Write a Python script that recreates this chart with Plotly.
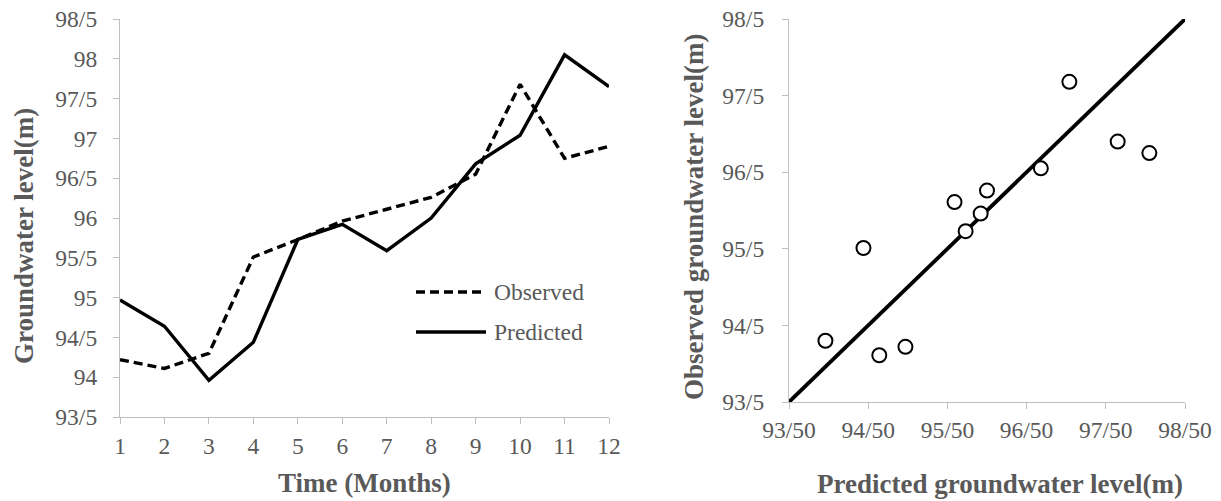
import plotly.graph_objects as go

# Monthly groundwater levels (m)
months = [1, 2, 3, 4, 5, 6, 7, 8, 9, 10, 11, 12]
observed = [94.22, 94.11, 94.30, 95.51, 95.73, 95.96, 96.11, 96.26, 96.55, 97.68, 96.75, 96.90]
predicted = [94.97, 94.64, 93.96, 94.44, 95.73, 95.92, 95.59, 96.00, 96.68, 97.04, 98.05, 97.65]

# Tick values and labels (slash used as decimal separator)
left_y_vals = [93.5, 94.0, 94.5, 95.0, 95.5, 96.0, 96.5, 97.0, 97.5, 98.0, 98.5]
left_y_text = ["93/5", "94", "94/5", "95", "95/5", "96", "96/5", "97", "97/5", "98", "98/5"]
right_y_vals = [93.5, 94.5, 95.5, 96.5, 97.5, 98.5]
right_y_text = ["93/5", "94/5", "95/5", "96/5", "97/5", "98/5"]
right_x_vals = [93.5, 94.5, 95.5, 96.5, 97.5, 98.5]
right_x_text = ["93/50", "94/50", "95/50", "96/50", "97/50", "98/50"]
level_range = [93.5, 98.5]

W, H = 1221, 501
FONT = "Liberation Serif"
GREY = "#595959"
AXIS = "#bfbfbf"
TICK_SIZE = 23.5
TITLE_SIZE = 27


def px(x):
    return x / W


def py(y):
    return 1 - y / H


fig = go.Figure()

# Left: time series
fig.add_trace(go.Scatter(
    x=months, y=observed, mode="lines", name="Observed",
    line=dict(color="black", width=3.4, dash="9px,5px"),
    xaxis="x", yaxis="y", showlegend=False))
fig.add_trace(go.Scatter(
    x=months, y=predicted, mode="lines", name="Predicted",
    line=dict(color="black", width=3.4),
    xaxis="x", yaxis="y", showlegend=False))

# Right: predicted vs observed with 1:1 line
fig.add_trace(go.Scatter(
    x=level_range, y=level_range, mode="lines",
    line=dict(color="black", width=3.8),
    xaxis="x2", yaxis="y2", showlegend=False, cliponaxis=False))
fig.add_trace(go.Scatter(
    x=predicted, y=observed, mode="markers",
    marker=dict(symbol="circle", size=14, color="white",
                line=dict(color="black", width=2)),
    xaxis="x2", yaxis="y2", showlegend=False))

axis_common = dict(
    showgrid=False, zeroline=False, showline=True, linecolor=AXIS, linewidth=1.3,
    ticks="outside", ticklen=6, tickcolor=AXIS, tickwidth=1.3, automargin=False,
    tickfont=dict(family=FONT, size=TICK_SIZE, color=GREY),
)

fig.update_layout(
    width=W, height=H,
    margin=dict(l=0, r=0, t=0, b=0, autoexpand=False),
    paper_bgcolor="white", plot_bgcolor="white",
    xaxis=dict(domain=[px(120), px(609)], range=[1, 12], tickvals=months,
               anchor="y", ticklabelstandoff=2, **axis_common),
    yaxis=dict(domain=[py(417), py(19)], range=level_range,
               tickvals=left_y_vals, ticktext=left_y_text,
               anchor="x", ticklabelstandoff=11, **axis_common),
    xaxis2=dict(domain=[px(789), px(1185)], range=level_range,
                tickvals=right_x_vals, ticktext=right_x_text,
                anchor="y2", ticklabelstandoff=1, **axis_common),
    yaxis2=dict(domain=[py(402), py(19)], range=level_range,
                tickvals=right_y_vals, ticktext=right_y_text,
                anchor="x2", ticklabelstandoff=13, **axis_common),
)

title_font = dict(family=FONT, size=TITLE_SIZE, color=GREY, weight="bold")
annotations = [
    dict(text="Time (Months)", x=px(365), y=py(483), xref="paper", yref="paper",
         showarrow=False, font=title_font, xanchor="center", yanchor="middle"),
    dict(text="Groundwater level(m)", x=px(24), y=py(236), xref="paper", yref="paper",
         showarrow=False, font=title_font, textangle=-90, xanchor="center", yanchor="middle"),
    dict(text="Predicted groundwater level(m)", x=px(1000), y=py(484), xref="paper", yref="paper",
         showarrow=False, font=title_font, xanchor="center", yanchor="middle"),
    dict(text="Observed groundwater level(m)", x=px(694), y=py(217), xref="paper", yref="paper",
         showarrow=False, font=title_font, textangle=-90, xanchor="center", yanchor="middle"),
    # legend labels
    dict(text="Observed", x=px(492), y=py(292), xref="paper", yref="paper",
         showarrow=False, font=dict(family=FONT, size=TICK_SIZE, color=GREY),
         xanchor="left", yanchor="middle"),
    dict(text="Predicted", x=px(492), y=py(332), xref="paper", yref="paper",
         showarrow=False, font=dict(family=FONT, size=TICK_SIZE, color=GREY),
         xanchor="left", yanchor="middle"),
]
fig.update_layout(annotations=annotations)

# legend samples
fig.add_shape(type="line", xref="paper", yref="paper",
              x0=px(416), x1=px(486), y0=py(292), y1=py(292),
              line=dict(color="black", width=3.4, dash="9px,5px"))
fig.add_shape(type="line", xref="paper", yref="paper",
              x0=px(416), x1=px(486), y0=py(332), y1=py(332),
              line=dict(color="black", width=3.4))

fig.write_html("out.html")
